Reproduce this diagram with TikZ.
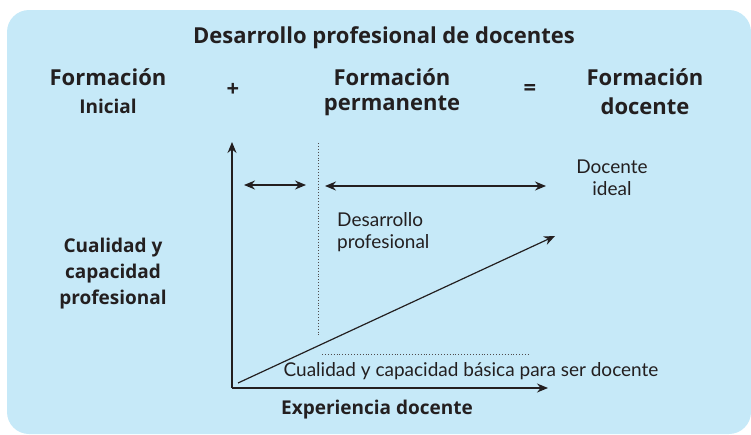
\documentclass[tikz,border=0pt]{standalone}
\usepackage{fontspec}
\setmainfont{Lato}
\newfontfamily\grassetto{Open Sans}
\usetikzlibrary{arrows.meta}
\definecolor{celeste}{RGB}{198,233,248}
\definecolor{inchiostro}{RGB}{35,31,32}
\tikzset{
>={Stealth[length=11pt,width=9pt]},
titolo/.style={font=\grassetto\bfseries\fontsize{22}{24}\selectfont,text=inchiostro},
sotto titolo/.style={font=\grassetto\bfseries\fontsize{19}{21}\selectfont,text=inchiostro},
etichetta/.style={font=\grassetto\bfseries\fontsize{19}{26}\selectfont,text=inchiostro,align=center},
testo/.style={font=\fontsize{19}{22}\selectfont,text=inchiostro},
freccia/.style={<->,line width=1.4pt,draw=inchiostro},
asse/.style={->,line width=1.3pt,draw=inchiostro},
puntini/.style={dotted,line width=0.9pt,draw=inchiostro!80}}

\begin{document}
\begin{tikzpicture}[x=1pt,y=-1pt,inner sep=0pt]

\useasboundingbox (0,0) rectangle (751,434);
\fill[celeste,rounded corners=22pt] (7,10) rectangle (751,434);

\node[titolo] (tit) at (384,38) {Desarrollo profesional de docentes};
\node[titolo] (fi) at (108,77) {Formación};
\node[sotto titolo] (fi2) at (108,106) {Inicial};
\node[titolo] (piu) at (233,90) {+};
\node[titolo] (fp) at (392,77) {Formación};
\node[titolo] (fp2) at (392,106) {permanente};
\node[titolo] (uguale) at (530,90) {=};
\node[titolo] (fd) at (645,77) {Formación};
\node[titolo] (fd2) at (645,106) {docente};

\node[etichetta] (cual) at (113,274) {Cualidad y\\capacidad\\profesional};
\node[testo,align=center] (ideal) at (612,178) {Docente\\ideal};
\node[testo,align=left,anchor=west] (dp) at (337,232) {Desarrollo\\profesional};
\node[testo] (basica) at (471,371) {Cualidad y capacidad básica para ser docente};
\node[etichetta] (exp) at (377,410) {Experiencia docente};

\coordinate (O) at (232,388);
\coordinate (ytop) at (232,142);
\coordinate (xend) at (548,388);
\coordinate (a1) at (244,185);
\coordinate (a2) at (306,185);
\coordinate (b1) at (325,186);
\coordinate (b2) at (546,186);
\coordinate (d1) at (318,143);
\coordinate (d2) at (318,335);
\coordinate (h1) at (322,354);
\coordinate (h2) at (530,354);
\coordinate (r1) at (238,383);
\coordinate (r2) at (555,236);

\draw[asse] (O) -- (ytop);
\draw[asse] (O) -- (xend);
\draw[freccia] (a1) -- (a2);
\draw[freccia] (b1) -- (b2);
\draw[puntini] (d1) -- (d2);
\draw[puntini] (h1) -- (h2);
\draw[->,line width=1.2pt,draw=inchiostro] (r1) -- (r2);

\end{tikzpicture}
\end{document}
